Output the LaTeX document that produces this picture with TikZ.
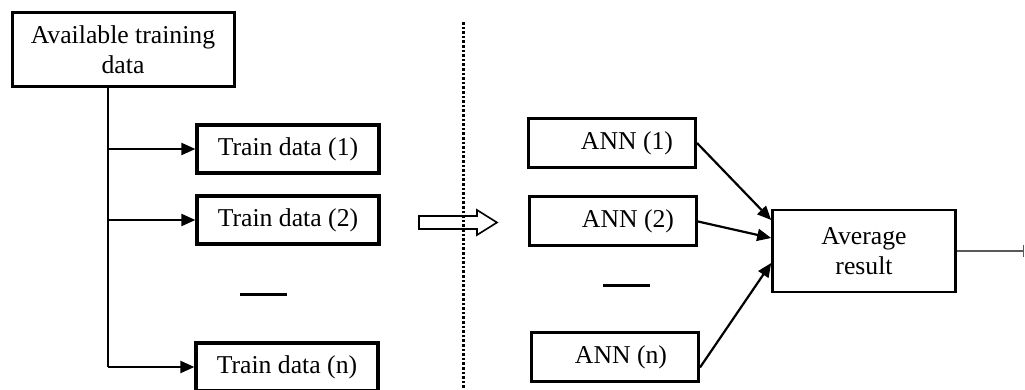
\documentclass[tikz,border=0pt]{standalone}
\usepackage{fontspec}
\setmainfont{Liberation Serif}
\usepackage{tikz}
\usetikzlibrary{arrows.meta,calc}

\tikzset{
  box/.style={draw, line width=1.6pt, rectangle, inner sep=0pt, align=center,
    font=\fontsize{12.85}{15}\selectfont},
  databox/.style={box, minimum width=91pt, minimum height=24pt},
  annbox/.style={box, line width=1.5pt, minimum width=83.5pt, minimum height=24.5pt},
  arr/.style={line width=1.1pt, -{Triangle[length=7pt,width=6pt]}},
  sep/.style={line width=1.5pt}
}

\begin{document}
\begin{tikzpicture}[x=0.5pt,y=-0.5pt]
        \useasboundingbox (0,0) rectangle (1025,390);
        % left side: splitting the data
        \node[box, line width=1.5pt, minimum width=111pt, minimum height=37pt] (avail) at (123,50) {Available training\\data};
        \node[databox] (t1) at (288,149) {Train data (1)};
        \node[databox] (t2) at (288,220) {Train data (2)};
        \node[databox] (tn) at (287,367) {Train data (n)};
        \coordinate (trunk) at (108,367);
        \draw[line width=1.1pt] (avail.south -| trunk) -- (trunk);
        \draw[arr] (t1.west -| trunk) -- (t1.west);
        \draw[arr] (t2.west -| trunk) -- (t2.west);
        \draw[arr] (trunk) -- (tn.west);
        \draw[sep] (240,295) -- (287,295);
        % middle
        \draw[line width=0.8pt, fill=white] (419,216) -- (477,216) -- (477,210) -- (497,222.5)
              -- (477,235) -- (477,229) -- (419,229) -- cycle;
        \coordinate (dtop) at (463,22);
        \coordinate (dbot) at (463,392);
        \draw[line width=1.5pt, dash pattern=on 1.3pt off 1pt] (dtop) -- (dbot);
        % right side: the networks
        \node[annbox] (ann1) at (612,143) {\hspace*{15pt}ANN (1)};
        \node[annbox] (ann2) at (613,221.5) {\hspace*{15pt}ANN (2)};
        \node[annbox] (annn) at (615,357.5) {\hspace*{6pt}ANN (n)};
        \draw[sep] (603,286) -- (650,286);
        \node[box, line width=1.3pt, minimum width=91.5pt, minimum height=41pt] (avg) at (864,251) {Average\\result};
        \draw[arr] (ann1.east) -- ($(avg.west)+(0,-31)$);
        \draw[arr] (ann2.east) -- ($(avg.west)+(0,-13)$);
        \draw[arr] ($(annn.east)+(0,10)$) -- ($(avg.west)+(0,12)$);
        \coordinate (out) at (1024,251);
        \draw[gray!70!black, line width=0.75pt, -{Bar[width=6pt]}] (avg.east) -- (out);
    \end{tikzpicture}
\end{document}
